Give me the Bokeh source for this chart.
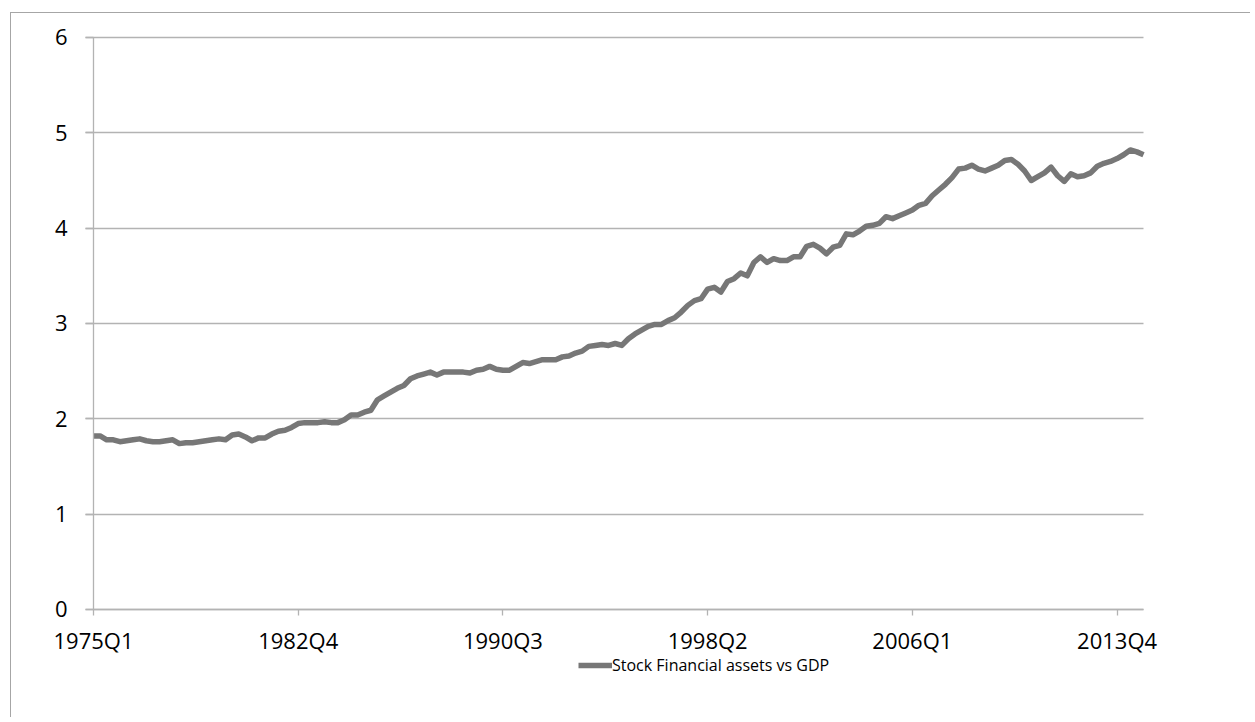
from bokeh.plotting import figure
from bokeh.models import Range1d, FixedTicker, Legend, LegendItem
from bokeh.embed import file_html
from bokeh.resources import INLINE

# ---- data -------------------------------------------------------------
start_year = 1975
n_quarters = 160
quarters = [f"{start_year + i // 4}Q{i % 4 + 1}" for i in range(n_quarters)]

ratio = [
    1.82, 1.82, 1.78, 1.78, 1.76, 1.77, 1.78, 1.79, 1.77, 1.76,
    1.76, 1.77, 1.78, 1.74, 1.75, 1.75, 1.76, 1.77, 1.78, 1.79,
    1.78, 1.83, 1.84, 1.81, 1.77, 1.80, 1.80, 1.84, 1.87, 1.88,
    1.91, 1.95, 1.96, 1.96, 1.96, 1.97, 1.96, 1.96, 1.99, 2.04,
    2.04, 2.07, 2.09, 2.20, 2.24, 2.28, 2.32, 2.35, 2.42, 2.45,
    2.47, 2.49, 2.46, 2.49, 2.49, 2.49, 2.49, 2.48, 2.51, 2.52,
    2.55, 2.52, 2.51, 2.51, 2.55, 2.59, 2.58, 2.60, 2.62, 2.62,
    2.62, 2.65, 2.66, 2.69, 2.71, 2.76, 2.77, 2.78, 2.77, 2.79,
    2.77, 2.84, 2.89, 2.93, 2.97, 2.99, 2.99, 3.03, 3.06, 3.12,
    3.19, 3.24, 3.26, 3.36, 3.38, 3.33, 3.44, 3.47, 3.53, 3.50,
    3.64, 3.70, 3.64, 3.68, 3.66, 3.66, 3.70, 3.70, 3.81, 3.83,
    3.79, 3.73, 3.80, 3.82, 3.94, 3.93, 3.97, 4.02, 4.03, 4.05,
    4.12, 4.10, 4.13, 4.16, 4.19, 4.24, 4.26, 4.34, 4.40, 4.46,
    4.53, 4.62, 4.63, 4.66, 4.62, 4.60, 4.63, 4.66, 4.71, 4.72,
    4.67, 4.60, 4.50, 4.54, 4.58, 4.64, 4.55, 4.49, 4.57, 4.54,
    4.55, 4.58, 4.65, 4.68, 4.70, 4.73, 4.77, 4.82, 4.80, 4.77,
]

tick_labels = ["1975Q1", "1982Q4", "1990Q3", "1998Q2", "2006Q1", "2013Q4"]
y_ticks = [0, 1, 2, 3, 4, 5, 6]
series_name = "Stock Financial assets vs GDP"

x_index = list(range(len(ratio)))
tick_positions = [quarters.index(t) for t in tick_labels]
last = len(ratio) - 1

# ---- figure -----------------------------------------------------------
FONT = "Open Sans"
GRID = "#b3b3b3"

# The frame covers the whole chart area; the ranges are widened so that the
# data area (index 0..last, value 0..6) sits where it is in the reference.
p = figure(
    width=1240, height=705,
    output_backend="svg", toolbar_location=None,
    x_range=Range1d(-12.417, last + 16.354),
    y_range=Range1d(-1.1434, 6.2517),
    min_border_left=0, min_border_right=0,
    min_border_top=0, min_border_bottom=0,
)
p.styles = {
    "border-left": "1px solid #a6a6a6",
    "border-top": "1px solid #a6a6a6",
    "margin-left": "10px",
    "margin-top": "12px",
}
p.outline_line_color = None
p.background_fill_color = "white"
p.border_fill_color = "white"

p.xgrid.grid_line_color = None
p.ygrid.grid_line_color = GRID
p.ygrid.grid_line_width = 1.3
# horizontal gridlines run from the tick stub left of the axis to the last quarter
p.ygrid.cross_bounds = (-1.2, last)

p.yaxis.ticker = FixedTicker(ticks=y_ticks)
p.yaxis.bounds = (0, 6)
p.yaxis.fixed_location = 0
p.xaxis.ticker = FixedTicker(ticks=tick_positions)
p.xaxis.bounds = (0, last)
p.xaxis.fixed_location = 0
p.xaxis.major_label_overrides = {pos: lab for pos, lab in zip(tick_positions, tick_labels)}

for ax in (p.xaxis[0], p.yaxis[0]):
    ax.axis_line_color = GRID
    ax.axis_line_width = 1.3
    ax.major_tick_line_color = GRID
    ax.major_tick_line_width = 1.3
    ax.major_tick_in = 0
    ax.minor_tick_line_color = None
    ax.major_label_text_font = FONT
    ax.major_label_text_font_size = "22px"
    ax.major_label_text_color = "#000000"

p.xaxis.major_tick_out = 6
p.xaxis.major_label_standoff = 10
p.yaxis.major_tick_out = 8
p.yaxis.major_label_standoff = 18

r = p.line(x_index, ratio, line_color="#777777", line_width=5.5, line_join="round")

legend = Legend(
    items=[LegendItem(label=series_name, renderers=[r])],
    location=(567, 42),
    orientation="horizontal",
    glyph_width=34, glyph_height=22,
    label_standoff=0, padding=0, margin=0, spacing=0,
    label_text_font=FONT, label_text_font_size="16px",
    label_text_color="#000000",
    border_line_color=None, background_fill_alpha=0,
)
p.add_layout(legend, "center")

open("out.html", "w").write(file_html(p, INLINE))
